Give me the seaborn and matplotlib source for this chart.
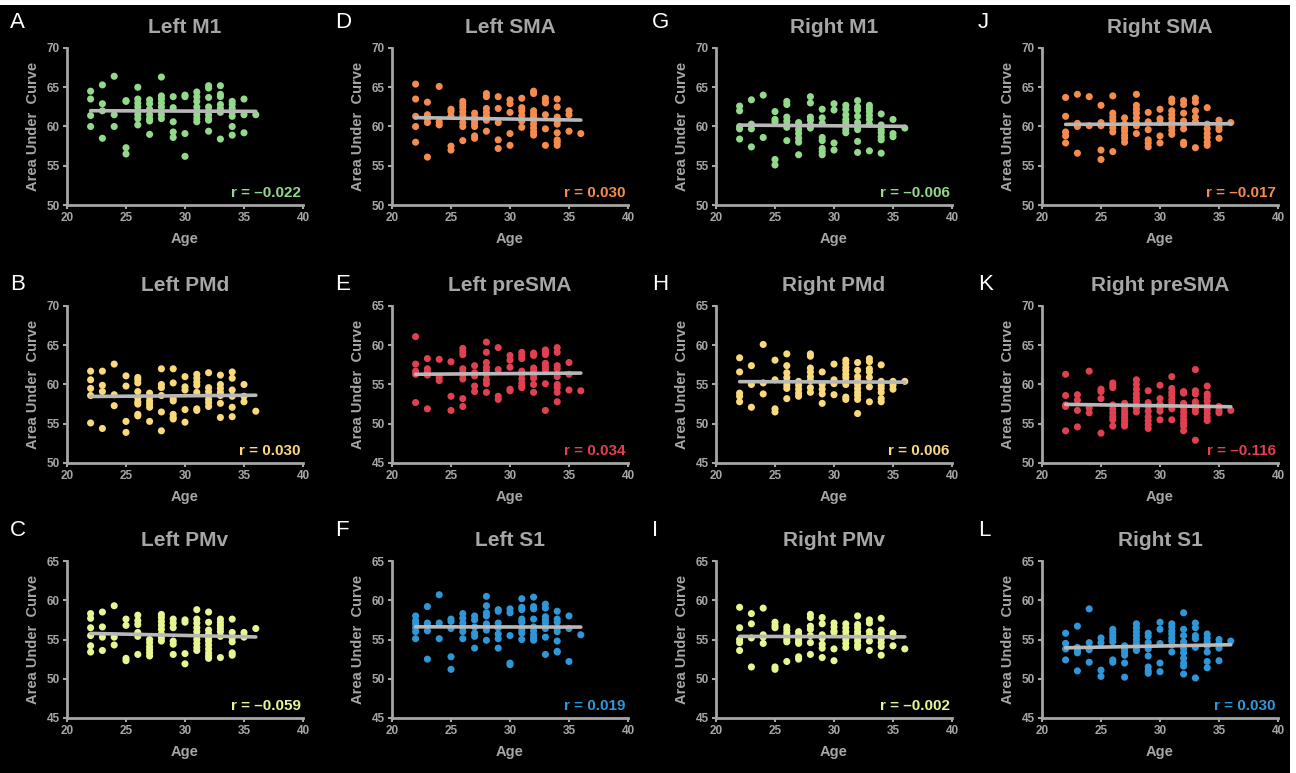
import matplotlib
matplotlib.use("Agg")
import matplotlib.pyplot as plt
from matplotlib.patches import Rectangle
import seaborn as sns

# ---------------- data (age -> Area Under Curve values) ----------------
left_m1 = {22: [64.5, 63.5, 61.4, 60.0], 23: [65.3, 62.9, 62.0, 58.5], 24: [66.4, 61.5, 60.0],
           25: [63.3, 63.2, 57.3, 56.5], 26: [65.0, 63.5, 63.0, 62.5, 62.0, 61.5, 61.0, 60.2],
           27: [63.4, 62.9, 62.2, 61.5, 61.0, 60.7, 59.0], 28: [66.3, 63.9, 63.5, 63.0, 62.5, 62.0, 61.5, 61.0],
           29: [63.8, 62.4, 60.6, 59.3, 58.6], 30: [64.0, 63.8, 59.1, 56.2],
           31: [64.4, 63.8, 63.2, 62.5, 62.0, 61.5, 61.0, 60.6], 32: [65.2, 64.9, 63.7, 62.5, 62.0, 61.5, 61.0, 60.8, 59.4],
           33: [65.2, 64.1, 63.8, 62.8, 62.3, 61.8, 58.4], 34: [63.2, 62.8, 62.3, 61.8, 61.3, 60.0, 58.9],
           35: [63.5, 61.5, 59.2], 36: [61.5]}
left_sma = {22: [65.4, 63.5, 61.3, 60.0, 58.0], 23: [63.1, 61.5, 61.0, 60.5, 56.1], 24: [65.1, 60.6, 60.2],
            25: [62.2, 61.9, 61.3, 57.5, 57.0], 26: [63.2, 62.8, 62.4, 61.9, 61.4, 60.5, 60.0, 58.2],
            27: [61.7, 61.2, 60.8, 60.4, 60.0, 58.8, 58.5], 28: [64.2, 63.8, 62.3, 61.8, 61.3, 60.8, 59.4],
            29: [63.8, 62.3, 60.5, 58.3, 57.2], 30: [63.4, 62.9, 61.8, 59.1, 57.6],
            31: [63.6, 62.4, 62.0, 61.4, 60.7, 59.9], 32: [64.5, 64.2, 62.0, 61.6, 61.2, 60.8, 60.3, 59.8, 59.3, 58.9],
            33: [63.6, 63.2, 63.0, 61.5, 59.7, 57.6], 34: [63.5, 62.5, 61.2, 60.7, 60.3, 59.2, 58.3, 58.0, 57.6],
            35: [62.0, 61.5, 59.4], 36: [59.1]}
right_m1 = {22: [62.6, 62.0, 60.0, 59.7, 58.4], 23: [63.4, 60.3, 59.7, 57.4], 24: [64.0, 58.6],
            25: [61.9, 60.9, 60.6, 55.8, 55.1], 26: [63.2, 62.8, 61.2, 60.7, 60.2, 59.9, 58.2],
            27: [60.5, 60.1, 59.6, 59.1, 58.5, 58.0, 56.4], 28: [63.8, 63.0, 61.2, 60.8, 60.2, 59.8],
            29: [62.2, 61.1, 60.4, 58.6, 58.2, 57.2, 56.8, 56.4], 30: [62.9, 62.1, 57.9, 57.0],
            31: [62.7, 62.2, 61.5, 60.9, 60.5, 60.1, 59.6, 59.2], 32: [63.3, 62.5, 62.1, 61.3, 60.5, 60.0, 59.6, 58.1, 56.7],
            33: [62.7, 62.3, 61.9, 61.4, 60.9, 60.3, 56.9], 34: [61.6, 60.2, 59.6, 59.2, 58.7, 58.3, 56.6],
            35: [60.9, 59.1, 58.7], 36: [59.8]}
right_sma = {22: [63.7, 61.3, 59.3, 58.8, 57.9], 23: [64.1, 60.4, 60.0, 56.6], 24: [63.8, 60.1],
             25: [62.7, 60.5, 60.1, 57.0, 55.8], 26: [63.9, 61.7, 61.2, 60.8, 60.2, 59.8, 59.3, 56.8],
             27: [61.1, 60.3, 59.8, 59.4, 58.9, 58.5, 58.0], 28: [64.1, 62.7, 62.2, 61.7, 61.1, 60.5, 60.1, 59.1],
             29: [61.8, 60.6, 59.6, 58.3, 57.9, 57.4], 30: [62.2, 61.0, 60.5, 58.8, 57.9],
             31: [63.5, 63.1, 62.0, 61.5, 61.0, 60.5, 60.0, 59.5, 59.0], 32: [63.3, 62.8, 61.7, 60.7, 60.3, 59.7, 58.0, 57.7],
             33: [63.6, 63.1, 62.0, 61.2, 60.6, 57.3], 34: [62.4, 60.3, 59.7, 59.1, 58.6, 58.0, 57.6],
             35: [60.8, 60.0, 59.6, 58.5], 36: [60.5]}
left_pmd = {22: [61.7, 60.6, 59.5, 58.6, 55.1], 23: [61.7, 59.9, 59.1, 54.4], 24: [62.6, 58.7, 57.3],
            25: [61.1, 59.8, 55.3, 53.9], 26: [60.9, 60.6, 60.2, 59.1, 58.3, 57.8, 57.5, 56.2, 56.0],
            27: [58.9, 58.4, 57.9, 57.5, 57.1, 55.3], 28: [62.0, 60.0, 59.6, 58.6, 56.5, 54.1],
            29: [62.0, 60.2, 58.2, 57.9, 56.2, 55.8, 55.6], 30: [61.0, 59.7, 59.3, 56.8, 55.2],
            31: [61.3, 60.8, 60.3, 59.9, 59.0, 56.9, 56.7], 32: [61.5, 59.6, 59.1, 58.6, 58.1, 57.7, 57.2],
            33: [61.2, 60.0, 59.5, 59.0, 58.6, 57.6, 55.8], 34: [61.6, 60.8, 59.3, 58.5, 57.1, 55.9],
            35: [60.0, 58.5, 57.8], 36: [56.6]}
left_presma = {22: [61.1, 57.6, 56.7, 56.3, 52.7], 23: [58.3, 57.0, 56.6, 56.2, 51.9], 24: [58.2, 55.9, 55.5],
               25: [57.9, 53.5, 51.7], 26: [59.6, 59.2, 58.8, 57.0, 56.6, 56.2, 55.7, 53.2, 52.2],
               27: [57.4, 56.5, 56.1, 54.8, 54.1], 28: [60.4, 59.1, 57.8, 57.2, 56.8, 56.3, 55.6, 55.1, 54.0],
               29: [59.7, 56.9, 53.5, 53.1], 30: [58.7, 58.1, 57.2, 54.4, 54.2],
               31: [59.1, 58.7, 58.3, 56.7, 56.3, 55.7, 55.2, 54.8, 54.6], 32: [59.0, 58.7, 57.1, 56.7, 56.2, 55.8, 55.0, 54.0],
               33: [59.4, 59.1, 58.8, 57.7, 57.3, 56.9, 55.1, 51.7], 34: [59.7, 59.1, 57.4, 57.0, 56.0, 55.0, 54.6, 54.0, 52.8],
               35: [57.8, 56.3, 54.3], 36: [54.2]}
right_pmd = {22: [58.4, 56.6, 53.9, 53.5, 52.8], 23: [57.4, 55.0, 52.1], 24: [60.1, 55.2, 53.8],
             25: [58.1, 55.6, 51.9, 51.5], 26: [58.9, 57.4, 56.5, 55.9, 55.4, 54.9, 54.5, 53.2],
             27: [55.4, 54.9, 54.4, 53.9, 53.5], 28: [58.9, 58.6, 57.1, 56.6, 56.0, 55.5, 54.6, 54.0],
             29: [56.6, 55.0, 54.4, 53.8, 52.6], 30: [57.6, 55.6, 55.1, 53.7],
             31: [58.1, 57.7, 57.2, 56.8, 56.3, 55.9, 55.4, 55.0, 53.4, 53.1],
             32: [57.8, 56.8, 56.0, 55.5, 55.0, 54.5, 54.0, 53.6, 53.1, 51.3],
             33: [58.3, 57.9, 57.0, 56.6, 55.9, 54.7, 52.8], 34: [57.5, 55.4, 54.9, 54.5, 54.0, 53.2, 52.8],
             35: [55.4, 54.9, 54.4], 36: [55.4]}
right_presma = {22: [61.3, 58.6, 57.4, 57.2, 54.1], 23: [58.7, 58.0, 56.7, 54.6], 24: [61.7, 57.0, 56.4],
                25: [59.4, 59.1, 58.2, 53.8], 26: [60.2, 59.9, 59.6, 57.4, 56.9, 56.4, 55.9, 55.5, 54.7],
                27: [57.6, 57.1, 56.6, 56.2, 55.8, 55.4, 55.0, 54.7],
                28: [60.6, 60.0, 59.4, 58.8, 58.3, 57.9, 57.4, 57.0, 56.5],
                29: [59.2, 57.7, 57.2, 56.6, 55.9, 55.4, 54.9, 54.4], 30: [59.9, 58.2, 57.5, 57.0, 56.6, 55.5],
                31: [61.0, 59.5, 59.0, 58.6, 58.1, 57.7, 57.3, 56.9, 55.5],
                32: [59.1, 58.9, 57.6, 57.0, 56.5, 56.0, 55.5, 55.1, 54.7, 54.1],
                33: [61.9, 59.2, 58.8, 57.8, 57.4, 56.9, 56.5, 52.9],
                34: [59.8, 58.8, 58.4, 57.9, 57.3, 56.8, 56.3, 55.8, 55.4], 35: [57.2, 56.7, 56.4], 36: [56.7]}
left_pmv = {22: [58.3, 57.7, 56.5, 55.5, 54.2, 53.4], 23: [58.5, 56.6, 55.3, 53.6], 24: [59.3, 55.3, 54.3],
            25: [57.6, 56.8, 52.6, 52.3], 26: [58.1, 57.4, 56.9, 55.9, 55.4, 53.1],
            27: [55.0, 54.6, 54.1, 53.7, 53.3, 52.9], 28: [58.2, 57.8, 57.3, 56.8, 56.3, 55.7, 55.2, 54.8],
            29: [57.6, 57.1, 56.5, 54.8, 54.4, 53.1], 30: [57.5, 57.2, 53.2, 51.9],
            31: [58.8, 57.6, 57.1, 56.5, 56.0, 55.5, 55.0, 54.5, 54.0, 53.6],
            32: [58.5, 57.2, 56.2, 55.7, 55.2, 54.8, 54.3, 53.8, 53.3, 52.9, 52.6],
            33: [57.6, 57.2, 56.8, 56.4, 56.0, 55.4, 52.7], 34: [57.6, 55.9, 55.2, 54.7, 53.3, 53.0],
            35: [55.9, 55.5, 55.3], 36: [56.4]}
left_s1 = {22: [58.0, 57.4, 57.0, 56.5, 56.0, 55.1], 23: [59.2, 57.1, 56.7, 56.1, 52.5], 24: [60.7, 57.1, 55.1],
           25: [57.6, 57.3, 56.4, 52.8, 51.2], 26: [58.3, 57.7, 57.1, 56.5, 56.0, 55.1],
           27: [58.0, 57.5, 56.6, 55.8, 55.4, 53.9], 28: [60.5, 59.3, 58.4, 58.0, 57.0, 56.2, 54.9],
           29: [58.8, 58.6, 57.1, 56.5, 55.7, 55.1, 53.9], 30: [58.9, 58.4, 55.5, 52.0, 51.8],
           31: [60.2, 59.1, 58.8, 57.6, 57.2, 56.2, 55.8, 55.0],
           32: [60.4, 59.2, 58.9, 57.6, 56.6, 56.1, 55.6, 55.2, 54.9],
           33: [59.5, 59.0, 57.9, 57.5, 57.1, 56.4, 55.3, 53.1], 34: [58.6, 57.6, 57.2, 56.4, 56.0, 54.8, 53.5, 53.4],
           35: [58.0, 56.4, 52.2], 36: [55.6]}
right_pmv = {22: [59.1, 56.5, 55.0, 54.6, 53.6], 23: [58.3, 57.0, 55.2, 51.5], 24: [59.0, 55.6, 55.3, 54.5],
             25: [57.2, 56.8, 56.5, 51.5, 51.2], 26: [56.6, 56.2, 55.8, 55.4, 55.0, 54.7, 52.2],
             27: [56.0, 55.6, 55.2, 54.8, 54.5, 52.8, 52.5], 28: [58.2, 57.8, 56.7, 56.3, 55.5, 54.6, 53.1],
             29: [57.8, 57.0, 55.6, 55.2, 54.4, 53.9, 52.7], 30: [57.1, 56.6, 56.1, 55.9, 53.8, 52.3],
             31: [57.0, 56.5, 56.0, 55.5, 55.0, 54.5, 54.0],
             32: [58.0, 56.9, 56.5, 56.0, 55.6, 55.2, 54.8, 54.3, 54.0],
             33: [57.5, 57.1, 56.0, 55.5, 54.8, 53.6], 34: [57.7, 56.2, 55.7, 55.1, 54.6, 54.1, 53.0],
             35: [55.8, 55.4, 54.2], 36: [53.8]}
right_s1 = {22: [55.8, 54.5, 53.8, 52.4], 23: [56.7, 54.0, 53.6, 53.3, 51.0], 24: [58.9, 54.6, 53.7, 52.1],
            25: [55.2, 54.6, 51.1, 50.3], 26: [56.3, 55.9, 55.5, 55.1, 54.7, 52.4, 52.1],
            27: [54.2, 53.8, 53.4, 53.0, 52.0, 50.2], 28: [57.0, 56.5, 56.0, 55.5, 55.0, 54.5, 54.0, 53.6],
            29: [55.8, 55.4, 54.6, 53.8, 52.9, 51.5, 51.0, 50.7], 30: [57.2, 56.3, 54.5, 52.0, 50.9],
            31: [57.0, 56.6, 56.1, 55.7, 55.2, 54.8, 54.3, 53.4],
            32: [58.4, 56.3, 55.5, 54.7, 54.2, 53.8, 53.3, 52.6, 52.0, 51.6, 50.6],
            33: [57.1, 56.5, 55.5, 55.1, 54.0, 50.1], 34: [55.7, 55.2, 54.7, 54.2, 53.4, 52.2, 51.4],
            35: [55.0, 54.5, 53.9, 52.3], 36: [54.8]}

letters = ["A", "D", "G", "J", "B", "E", "H", "K", "C", "F", "I", "L"]
titles = ["Left M1", "Left SMA", "Right M1", "Right SMA",
          "Left PMd", "Left preSMA", "Right PMd", "Right preSMA",
          "Left PMv", "Left S1", "Right PMv", "Right S1"]
datasets = [left_m1, left_sma, right_m1, right_sma,
            left_pmd, left_presma, right_pmd, right_presma,
            left_pmv, left_s1, right_pmv, right_s1]
r_labels = ["r = \u20130.022", "r = 0.030", "r = \u20130.006", "r = \u20130.017",
            "r = 0.030", "r = 0.034", "r = 0.006", "r = \u20130.116",
            "r = \u20130.059", "r = 0.019", "r = \u20130.002", "r = 0.030"]
y_ranges = [(50, 70), (50, 70), (50, 70), (50, 70),
            (50, 70), (45, 65), (45, 65), (50, 70),
            (45, 65), (45, 65), (45, 65), (45, 65)]

GREEN = "#93d98b"
ORANGE = "#f58c4e"
YELLOW = "#fad97c"
RED = "#e0404f"
LIME = "#e8f590"
BLUE = "#2f97d8"
colors = [GREEN, ORANGE, GREEN, ORANGE,
          YELLOW, RED, YELLOW, RED,
          LIME, BLUE, LIME, BLUE]

GRAY = "#a6a6a6"
LINE_GRAY = "#b8b8b8"

# ---------------- figure ----------------
sns.set_style("ticks")
plt.rcParams["font.family"] = ["Liberation Sans", "DejaVu Sans"]
plt.rcParams["font.weight"] = "bold"

W, H = 1296, 773
fig = plt.figure(figsize=(W / 100, H / 100), dpi=100)
fig.patch.set_facecolor("white")
fig.add_artist(Rectangle((0, 0), 1290 / W, (H - 5) / H, transform=fig.transFigure,
                         facecolor="black", edgecolor="none", zorder=-10))

col_left = [67, 392, 716, 1042]
row_top = [48, 306, 561]
ax_w, ax_h = 236, 157
letter_x = [10, 335, 652, 978]
letter_y = [22, 284, 530]

for i in range(12):
    r, c = divmod(i, 4)
    left, top = col_left[c], row_top[r]
    ax = fig.add_axes([left / W, 1 - (top + ax_h) / H, ax_w / W, ax_h / H])
    ax.set_facecolor("black")
    d = datasets[i]
    xs = [age for age, vals in d.items() for _ in vals]
    ys = [v for vals in d.values() for v in vals]
    sns.regplot(x=xs, y=ys, ax=ax, ci=None, truncate=True,
                scatter_kws=dict(s=26, color=colors[i], edgecolor="none", alpha=1, zorder=2),
                line_kws=dict(color=LINE_GRAY, lw=2.6, zorder=3))
    lo, hi = y_ranges[i]
    ax.set_xlim(20, 40)
    ax.set_ylim(lo, hi)
    ax.set_xticks([20, 25, 30, 35, 40])
    ax.set_yticks(list(range(lo, hi + 1, 5)))
    for s in ["top", "right"]:
        ax.spines[s].set_visible(False)
    for s in ["left", "bottom"]:
        ax.spines[s].set_color(GRAY)
        ax.spines[s].set_linewidth(2)
    ax.tick_params(colors=GRAY, labelsize=8.5, width=1.5, length=3, direction="out", pad=2)
    for lbl in ax.get_xticklabels() + ax.get_yticklabels():
        lbl.set_fontweight("bold")
        lbl.set_color(GRAY)
    ax.set_xlabel("Age", color=GRAY, fontsize=10.5, fontweight="bold", labelpad=6)
    ax.set_ylabel("Area Under  Curve", color=GRAY, fontsize=10.5, fontweight="bold", labelpad=5)
    ax.set_title(titles[i], color=GRAY, fontsize=15, fontweight="bold", pad=11)
    ax.text(0.99, 0.075, r_labels[i], transform=ax.transAxes, ha="right", va="center",
            color=colors[i], fontsize=11, fontweight="bold")
    fig.text(letter_x[c] / W, 1 - letter_y[r] / H, letters[i], color="white",
             fontsize=16, fontweight="normal", ha="left", va="center")

fig.savefig("out.png", dpi=100, facecolor=fig.get_facecolor())
